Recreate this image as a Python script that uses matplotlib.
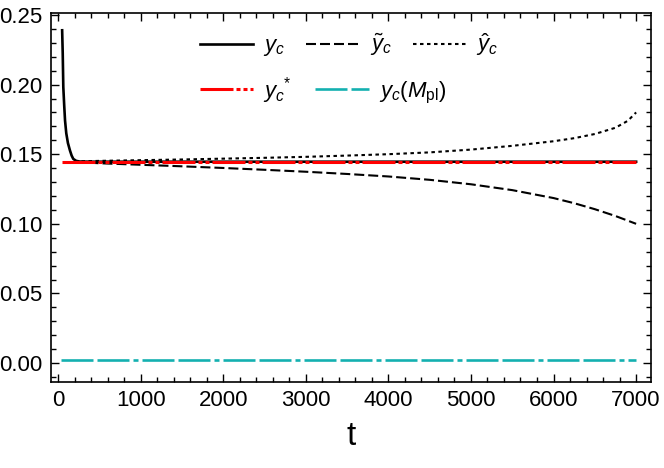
"""
plot.py: y_c relaxation versus t, with approximations and constant references
"""

import matplotlib
matplotlib.use("Agg")
import matplotlib.pyplot as plt
from matplotlib.ticker import MultipleLocator

plt.rcParams['font.family'] = ['Liberation Sans', 'DejaVu Sans']
plt.rcParams['mathtext.fontset'] = 'custom'
plt.rcParams['mathtext.rm'] = 'Liberation Sans'
plt.rcParams['mathtext.it'] = 'Liberation Sans:italic'
plt.rcParams['mathtext.bf'] = 'Liberation Sans:bold'
plt.rcParams['lines.scale_dashes'] = False

# Data
t_yc = [50, 57, 64, 75, 85, 100, 120, 145, 165, 185, 220, 266, 400, 1000,
        2000, 3000, 4000, 5000, 6000, 7000]
yc = [0.239, 0.2226, 0.1983, 0.185, 0.1742, 0.165, 0.158, 0.1526, 0.149,
      0.1466, 0.1452, 0.1447, 0.1446, 0.1446, 0.1446, 0.1446, 0.1446,
      0.1446, 0.1446, 0.1446]

t_tilde = [200, 500, 1000, 1500, 2000, 2500, 3000, 3500, 4000, 4500, 5000,
           5500, 6000, 6250, 6500, 6750, 7000]
yc_tilde = [0.1445, 0.1435, 0.1424, 0.1413, 0.1401, 0.1388, 0.1374, 0.1358,
            0.1340, 0.1316, 0.1284, 0.1242, 0.1185, 0.1148, 0.1105, 0.1056,
            0.1000]

t_hat = [200, 500, 1000, 1500, 2000, 2500, 3000, 3500, 4000, 4500, 5000,
         5500, 6000, 6250, 6500, 6750, 6900, 7000]
yc_hat = [0.1447, 0.1452, 0.1457, 0.1462, 0.1468, 0.1474, 0.1481, 0.1490,
          0.1500, 0.1513, 0.1533, 0.1560, 0.1593, 0.1615, 0.1645, 0.1690,
          0.1740, 0.1800]

t_const = [50, 7000]
yc_star = [0.1446, 0.1446]
t_mpl = [40, 7000]
yc_mpl = [0.002, 0.002]

px = 0.72  # pixel -> point at 100 dpi

fig = plt.figure(figsize=(6.64, 4.68), dpi=100)
ax = fig.add_axes([0.0768, 0.1838, 0.9036, 0.7884])

l1, = ax.plot(t_yc, yc, color='black', lw=1.9, label=r'$y_c$')
l2, = ax.plot(t_tilde, yc_tilde, color='black', lw=1.5,
              dashes=(10 * px, 4 * px), label=r'$\tilde{y}_c$')
l3, = ax.plot(t_hat, yc_hat, color='black', lw=1.5,
              dashes=(3.5 * px, 3.5 * px), label=r'$\hat{y}_c$')
l4, = ax.plot(t_const, yc_star, color='#ff0000', lw=2.2,
              dashes=(33 * px, 3 * px, 4 * px, 3 * px, 4 * px, 3 * px),
              label=r'$y_c{}^{*}$')
l5, = ax.plot(t_mpl, yc_mpl, color='#14b0b0', lw=1.9,
              dashes=(32 * px, 4 * px, 32 * px, 4 * px, 5 * px, 4 * px),
              label=r'$y_c(M_{\rm pl})$')

ax.set_xlim(-85, 7180)
ax.set_ylim(-0.0136, 0.2514)

ax.xaxis.set_major_locator(MultipleLocator(1000))
ax.xaxis.set_minor_locator(MultipleLocator(200))
ax.yaxis.set_major_locator(MultipleLocator(0.05))
ax.yaxis.set_minor_locator(MultipleLocator(0.01))
ax.yaxis.set_major_formatter(lambda v, pos: f"{v:.2f}")

ax.tick_params(which='both', direction='in', top=True, right=True,
               labelsize=16, width=1.0)
ax.tick_params(which='major', length=6, pad=6)
ax.tick_params(which='minor', length=3.5)
for s in ax.spines.values():
    s.set_linewidth(1.2)

ax.set_xlabel('t', fontsize=24, labelpad=7)

# Two legend rows laid out independently
leg1 = ax.legend(handles=[l1, l2, l3], ncol=3, frameon=False, fontsize=16,
                 loc='center left', bbox_to_anchor=(0.248, 0.913),
                 borderpad=0, borderaxespad=0, handlelength=2.4,
                 handletextpad=0.45, columnspacing=0.95)
ax.add_artist(leg1)
ax.legend(handles=[l4, l5], ncol=2, frameon=False, fontsize=16,
          loc='center left', bbox_to_anchor=(0.248, 0.791),
          borderpad=0, borderaxespad=0, handlelength=2.4,
          handletextpad=0.45, columnspacing=1.05)

fig.savefig('out.png', dpi=100)
